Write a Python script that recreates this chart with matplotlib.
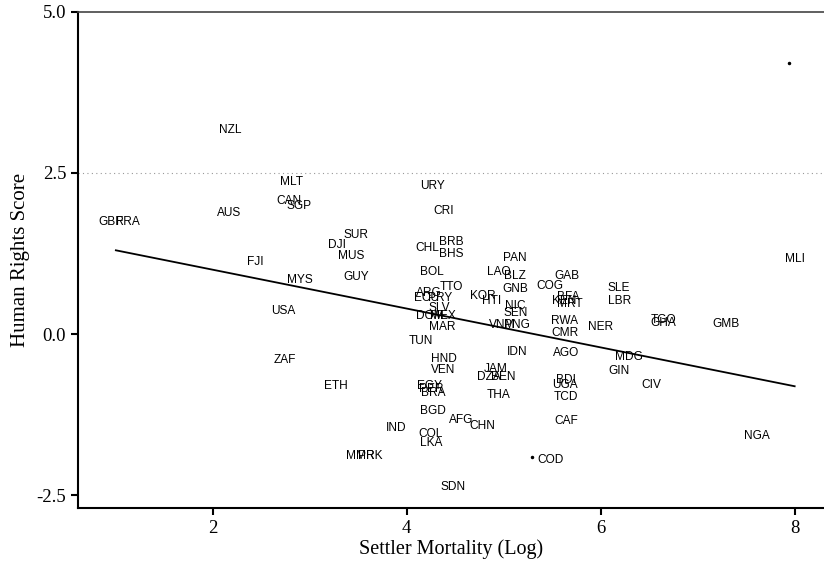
import matplotlib
matplotlib.use("Agg")
import matplotlib.pyplot as plt

# Country labels with (settler mortality log, human rights score)
countries = ["NZL", "MLT", "CAN", "SGP", "AUS", "GBR", "FRA", "FJI", "SUR", "DJI",
             "MUS", "GUY", "MYS", "USA", "ZAF", "ETH", "IND", "MMR", "PRK", "URY",
             "CRI", "CHL", "BRB", "BHS", "BOL", "TTO", "ARG", "ECU", "PRY", "SLV",
             "DOM", "MEX", "MAR", "TUN", "PAN", "LAO", "BLZ", "GNB", "KOR", "HTI",
             "NIC", "SEN", "VNM", "PNG", "IDN", "GAB", "COG", "BFA", "KEN", "MRT",
             "RWA", "CMR", "SLE", "LBR", "NER", "TGO", "GHA", "GMB", "MLI", "AGO",
             "MDG", "GIN", "CIV", "BDI", "UGA", "TCD", "CAF", "COD", "NGA", "HND",
             "VEN", "JAM", "DZA", "BEN", "THA", "EGY", "BRA", "PER", "BGD", "AFG",
             "CHN", "COL", "LKA", "SDN"]
mortality = [2.175, 2.81, 2.78, 2.885, 2.165, 0.95, 1.12, 2.44, 3.48, 3.28,
             3.43, 3.48, 2.895, 2.73, 2.74, 3.27, 3.89, 3.52, 3.62, 4.27,
             4.38, 4.21, 4.46, 4.46, 4.26, 4.46, 4.23, 4.20, 4.34, 4.34,
             4.24, 4.37, 4.37, 4.15, 5.11, 4.95, 5.12, 5.12, 4.78, 4.88,
             5.12, 5.12, 4.985, 5.14, 5.14, 5.65, 5.48, 5.67, 5.62, 5.68,
             5.63, 5.63, 6.19, 6.19, 6.00, 6.65, 6.65, 7.29, 8.00, 5.64,
             6.29, 6.19, 6.52, 5.64, 5.63, 5.64, 5.64, 5.48, 7.61, 4.38,
             4.38, 4.92, 4.85, 5.00, 4.95, 4.23, 4.27, 4.25, 4.27, 4.56,
             4.78, 4.25, 4.25, 4.48]
rights = [3.17, 2.36, 2.07, 1.99, 1.88, 1.74, 1.74, 1.12, 1.54, 1.38,
          1.21, 0.89, 0.84, 0.36, -0.40, -0.81, -1.46, -1.89, -1.89, 2.30,
          1.91, 1.34, 1.43, 1.24, 0.96, 0.73, 0.64, 0.56, 0.56, 0.40,
          0.28, 0.28, 0.11, -0.11, 1.18, 0.96, 0.90, 0.70, 0.59, 0.51,
          0.43, 0.33, 0.14, 0.14, -0.28, 0.90, 0.75, 0.58, 0.51, 0.46,
          0.20, 0.02, 0.71, 0.51, 0.11, 0.22, 0.17, 0.16, 1.16, -0.30,
          -0.36, -0.57, -0.79, -0.71, -0.79, -0.98, -1.35, -1.96, -1.58, -0.39,
          -0.56, -0.54, -0.66, -0.66, -0.95, -0.81, -0.92, -0.86, -1.20, -1.34,
          -1.43, -1.55, -1.69, -2.38]

# Fitted regression line end points
fit_x = [1.0, 8.0]
fit_y = [1.30, -0.81]

# Stray specks visible in the scan
speck_x = [7.94, 5.29]
speck_y = [4.20, -1.91]

xticks = [2, 4, 6, 8]
yticks = [-2.5, 0.0, 2.5, 5.0]
ytick_labels = ["-2.5", "0.0", "2.5", "5.0"]

fig = plt.figure(figsize=(8.24, 5.67), dpi=100)
ax = fig.add_axes([0.0947, 0.104, 0.905, 0.875])

ax.set_xlim(0.61, 8.3)
ax.set_ylim(-2.70, 5.0)

# dotted reference line at 2.5
ax.axhline(2.5, color="#999999", linestyle=(0, (1, 3)), linewidth=0.8, zorder=0)

for name, x, y in zip(countries, mortality, rights):
    ax.text(x, y, name, ha="center", va="center", fontsize=8.6,
            family=["Liberation Sans", "DejaVu Sans"], color="black")

ax.plot(fit_x, fit_y, color="black", linewidth=1.3)
ax.plot(speck_x, speck_y, linestyle="none", marker="o", markersize=1.5, color="black")

ax.set_xticks(xticks)
ax.set_xticklabels([str(v) for v in xticks])
ax.set_yticks(yticks)
ax.set_yticklabels(ytick_labels)

serif = ["Liberation Serif", "DejaVu Serif"]
for lab in ax.get_xticklabels() + ax.get_yticklabels():
    lab.set_family(serif)
    lab.set_fontsize(13.5)

ax.tick_params(axis="both", direction="out", length=5, width=1.5, colors="black")
ax.set_xlabel("Settler Mortality (Log)", family=serif, fontsize=14.5, labelpad=2)
ax.set_ylabel("Human Rights Score", family=serif, fontsize=15, labelpad=5)

ax.spines["right"].set_visible(False)
for s in ["left", "bottom"]:
    ax.spines[s].set_linewidth(1.5)
ax.spines["top"].set_linewidth(1.2)
ax.spines["top"].set_color("#444444")

fig.savefig("out.png", dpi=100)
